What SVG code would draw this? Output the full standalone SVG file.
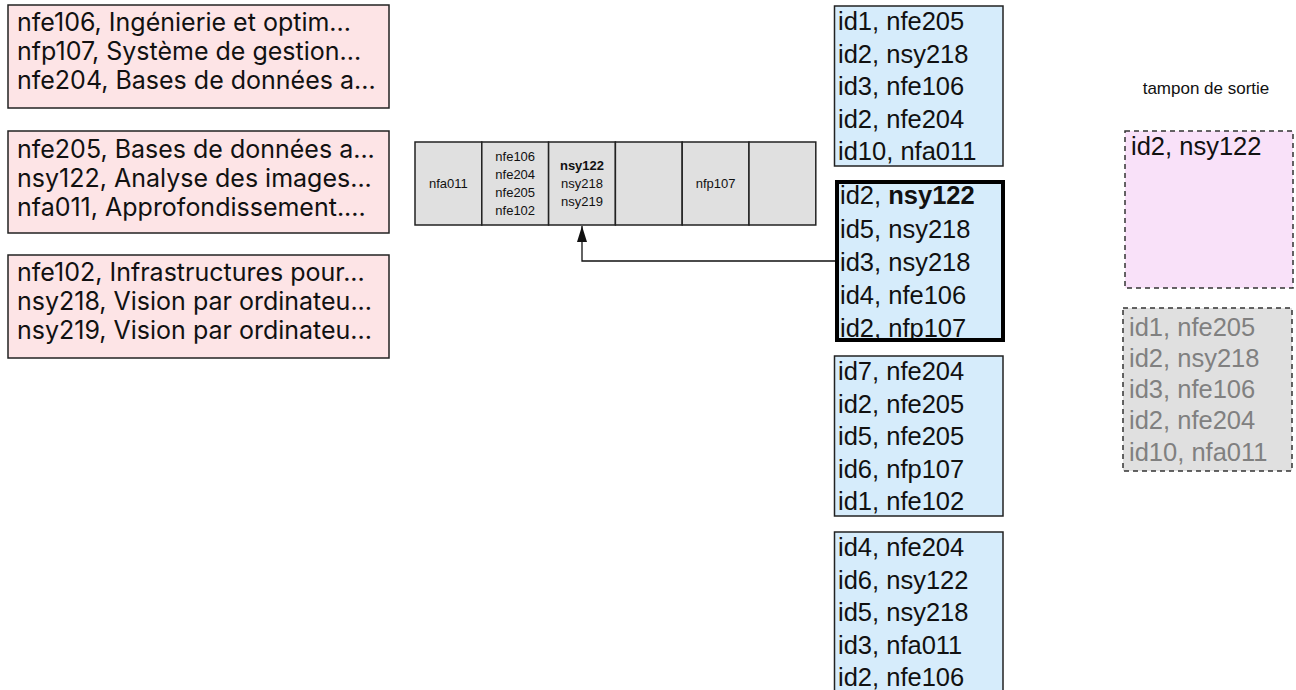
<svg xmlns="http://www.w3.org/2000/svg" width="1296" height="690" viewBox="0 0 1296 690">
  <defs>
    <style>
      .course { fill: #fde4e6; stroke: #222; stroke-width: 1.5; }
      .course-t { font-family: Inter, "Liberation Sans", sans-serif; font-size: 25px; fill: #111; }
      .bucket { fill: #e0e0e0; stroke: #222; stroke-width: 1.5; }
      .bucket-t { font-family: "Liberation Sans", Arial, sans-serif; font-size: 13px; fill: #111; text-anchor: middle; }
      .page { fill: #d6ecfb; stroke: #222; stroke-width: 1.5; }
      .page-fill { fill: #d6ecfb; }
      .page-hot { fill: none; stroke: #000; stroke-width: 4; }
      .page-t { font-family: "Liberation Sans", Arial, sans-serif; font-size: 25.5px; fill: #111; }
      .out { fill: #f9e1f9; stroke: #333; stroke-width: 1.5; stroke-dasharray: 5 4; }
      .spill { fill: #e0e0e0; stroke: #333; stroke-width: 1.5; stroke-dasharray: 5 4; }
      .grey-t { fill: #808080; }
      .label { font-family: "Liberation Sans", Arial, sans-serif; font-size: 17px; fill: #111; text-anchor: middle; }
      .wire { fill: none; stroke: #111; stroke-width: 1.3; }
    </style>
    <marker id="arrow" viewBox="0 0 16 10" refX="16" refY="5" markerWidth="16" markerHeight="10" markerUnits="userSpaceOnUse" orient="auto">
      <path d="M0,0 L16,5 L0,10 Z" fill="#111"/>
    </marker>
  </defs>

  <rect width="1296" height="690" fill="#fff"/>

  <!-- course blocks -->
  <g id="courses-1">
    <rect class="course" x="8" y="5" width="381" height="103"/>
    <text class="course-t" x="17" y="31">nfe106, Ingénierie et optim...</text>
    <text class="course-t" x="17" y="60">nfp107, Système de gestion...</text>
    <text class="course-t" x="17" y="89">nfe204, Bases de données a...</text>
  </g>
  <g id="courses-2">
    <rect class="course" x="8" y="131" width="381" height="102"/>
    <text class="course-t" x="17" y="158">nfe205, Bases de données a...</text>
    <text class="course-t" x="17" y="187">nsy122, Analyse des images...</text>
    <text class="course-t" x="17" y="216">nfa011, Approfondissement....</text>
  </g>
  <g id="courses-3">
    <rect class="course" x="8" y="255" width="381" height="103"/>
    <text class="course-t" x="17" y="281">nfe102, Infrastructures pour...</text>
    <text class="course-t" x="17" y="310">nsy218, Vision par ordinateu...</text>
    <text class="course-t" x="17" y="339">nsy219, Vision par ordinateu...</text>
  </g>

  <!-- hash table buckets -->
  <g id="hash-table">
    <rect class="bucket" x="415" y="142" width="66.8" height="83"/>
    <rect class="bucket" x="481.8" y="142" width="66.8" height="83"/>
    <rect class="bucket" x="548.6" y="142" width="66.8" height="83"/>
    <rect class="bucket" x="615.4" y="142" width="66.8" height="83"/>
    <rect class="bucket" x="682.2" y="142" width="66.8" height="83"/>
    <rect class="bucket" x="749" y="142" width="66.8" height="83"/>
    <text class="bucket-t" x="448.4" y="188">nfa011</text>
    <text class="bucket-t" x="515.2" y="160.5">nfe106</text>
    <text class="bucket-t" x="515.2" y="178.8">nfe204</text>
    <text class="bucket-t" x="515.2" y="197.1">nfe205</text>
    <text class="bucket-t" x="515.2" y="215.4">nfe102</text>
    <text class="bucket-t" x="582" y="169.5" font-weight="bold">nsy122</text>
    <text class="bucket-t" x="582" y="187.8">nsy218</text>
    <text class="bucket-t" x="582" y="206.1">nsy219</text>
    <text class="bucket-t" x="715.6" y="188">nfp107</text>
  </g>

  <!-- pages of records -->
  <g id="page-1">
    <rect class="page" x="834.5" y="6" width="168.5" height="160"/>
    <text class="page-t" x="838" y="30">id1, nfe205</text>
    <text class="page-t" x="838" y="62.5">id2, nsy218</text>
    <text class="page-t" x="838" y="95">id3, nfe106</text>
    <text class="page-t" x="838" y="127.5">id2, nfe204</text>
    <text class="page-t" x="838" y="160">id10, nfa011</text>
  </g>
  <g id="page-2">
    <rect class="page-fill" x="837" y="182" width="166" height="158"/>
    <text class="page-t" x="840" y="204">id2, <tspan font-weight="bold">nsy122</tspan></text>
    <text class="page-t" x="840" y="237.5">id5, nsy218</text>
    <text class="page-t" x="840" y="271">id3, nsy218</text>
    <text class="page-t" x="840" y="304">id4, nfe106</text>
    <text class="page-t" x="840" y="336.5">id2, nfp107</text>
    <rect class="page-hot" x="837" y="182" width="166" height="158"/>
  </g>
  <g id="page-3">
    <rect class="page" x="834.5" y="356" width="168.5" height="160"/>
    <text class="page-t" x="838" y="380">id7, nfe204</text>
    <text class="page-t" x="838" y="412.5">id2, nfe205</text>
    <text class="page-t" x="838" y="445">id5, nfe205</text>
    <text class="page-t" x="838" y="477.5">id6, nfp107</text>
    <text class="page-t" x="838" y="510">id1, nfe102</text>
  </g>
  <g id="page-4">
    <rect class="page" x="834.5" y="532" width="168.5" height="170"/>
    <text class="page-t" x="838" y="556">id4, nfe204</text>
    <text class="page-t" x="838" y="588.5">id6, nsy122</text>
    <text class="page-t" x="838" y="621">id5, nsy218</text>
    <text class="page-t" x="838" y="653.5">id3, nfa011</text>
    <text class="page-t" x="838" y="686">id2, nfe106</text>
  </g>

  <!-- output buffer -->
  <g id="output-buffer">
    <text class="label" x="1206" y="94">tampon de sortie</text>
    <rect class="out" x="1125" y="131" width="168" height="157"/>
    <text class="page-t" x="1131" y="155">id2, nsy122</text>
  </g>
  <g id="spilled-page">
    <rect class="spill" x="1123" y="308" width="169" height="163"/>
    <text class="page-t grey-t" x="1129" y="336">id1, nfe205</text>
    <text class="page-t grey-t" x="1129" y="367">id2, nsy218</text>
    <text class="page-t grey-t" x="1129" y="398">id3, nfe106</text>
    <text class="page-t grey-t" x="1129" y="429">id2, nfe204</text>
    <text class="page-t grey-t" x="1129" y="461">id10, nfa011</text>
  </g>

  <!-- connectors -->
  <g id="connectors">
    <path class="wire" d="M835,261 H582 V226" marker-end="url(#arrow)"/>
  </g>
</svg>
